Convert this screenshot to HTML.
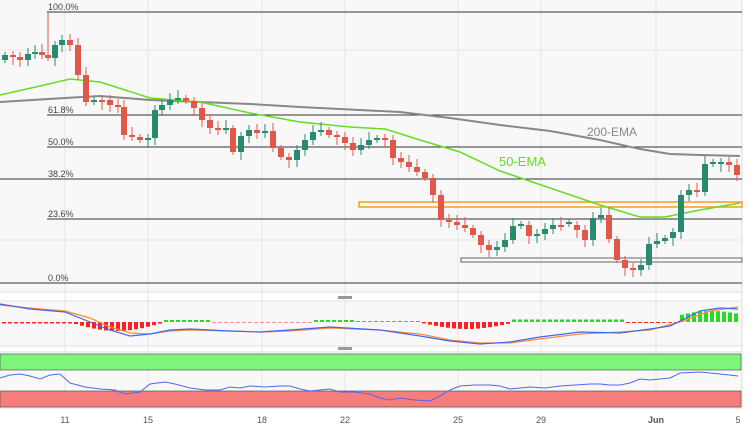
<!DOCTYPE html>
<html><head><meta charset="utf-8"><style>
html,body{margin:0;padding:0;background:#fff;width:750px;height:430px;overflow:hidden}
svg{display:block;font-family:"Liberation Sans",sans-serif}
</style></head><body>
<svg id="s" width="750" height="430" viewBox="0 0 750 430">
<rect width="750" height="430" fill="#fff"/>
<rect x="0" y="0" width="742" height="291" fill="#f8f8f8"/>
<rect x="0" y="302" width="742" height="43" fill="#f8f8f8"/>
<rect x="0" y="353" width="742" height="54" fill="#f8f8f8"/>
<g stroke="#e6e6e6" stroke-width="1">
<line x1="65" y1="0" x2="65" y2="407"/><line x1="148" y1="0" x2="148" y2="407"/><line x1="262" y1="0" x2="262" y2="407"/>
<line x1="345" y1="0" x2="345" y2="407"/><line x1="458" y1="0" x2="458" y2="407"/><line x1="541" y1="0" x2="541" y2="407"/>
<line x1="656" y1="0" x2="656" y2="407"/><line x1="0" y1="50" x2="742" y2="50"/><line x1="0" y1="240" x2="742" y2="240"/>
</g>
<line x1="0" y1="292" x2="742" y2="292" stroke="#ddd"/>
<line x1="0" y1="301" x2="742" y2="301" stroke="#ddd"/>
<line x1="0" y1="346" x2="742" y2="346" stroke="#ddd"/>
<line x1="0" y1="352" x2="742" y2="352" stroke="#ddd"/>
<line x1="0" y1="408" x2="742" y2="408" stroke="#ddd"/>
<line x1="742" y1="0" x2="742" y2="408" stroke="#ddd"/>
<rect x="338" y="296" width="14" height="3" fill="#999"/>
<rect x="338" y="347" width="14" height="3" fill="#999"/>
<g stroke="#333" stroke-width="1">
<line x1="47" y1="12" x2="742" y2="12"/><line x1="47" y1="115" x2="742" y2="115"/><line x1="47" y1="147" x2="742" y2="147"/>
<line x1="0" y1="179" x2="742" y2="179"/><line x1="47" y1="219" x2="742" y2="219"/><line x1="0" y1="283" x2="742" y2="283"/>
</g>
<g font-size="9" fill="#444">
<text x="48" y="10">100.0%</text><text x="48" y="113">61.8%</text><text x="48" y="145">50.0%</text>
<text x="48" y="177">38.2%</text><text x="48" y="217">23.6%</text><text x="48" y="281">0.0%</text>
</g>
<rect x="359" y="202" width="383" height="5" fill="none" stroke="#f0a020" stroke-width="1.5"/>
<rect x="461" y="258" width="281" height="4" fill="none" stroke="#666" stroke-width="1"/>
<polyline fill="none" stroke="#888" stroke-width="2" points="0,102 65,98 100,96 150,100 250,104 300,107 400,112 450,118 500,125 550,131 600,140 640,149 670,154 700,155 740,156"/>
<polyline fill="none" stroke="#66dd22" stroke-width="1.5" points="0,95 40,86 70,79 100,82 150,98 200,102 250,113 300,122 350,127 385,129 420,140 460,152 500,171 550,188 600,205 640,217 665,217 700,210 740,203"/>
<text x="587" y="136" font-size="12" fill="#888">200-EMA</text>
<text x="499" y="166" font-size="13" fill="#66dd22">50-EMA</text>
<g id="c"></g>
<g id="m"></g>
<rect x="0" y="354" width="741" height="16" fill="#7ef47a" stroke="#444" stroke-width="0.6"/>
<rect x="0" y="391" width="741" height="16" fill="#f77d7d" stroke="#444" stroke-width="0.6"/>
<polyline fill="none" stroke="#5566ee" stroke-width="1" points="0,378 10,375 20,374 30,376 40,379 50,375 60,374 70,383 85,387 100,389 115,390 125,394 140,392 150,384 165,382 175,384 190,388 205,390 220,390 230,387 240,388 250,386 265,387 280,386 290,386 300,389 310,391 320,390 330,389 340,392 355,392 370,394 380,398 390,400 400,398 415,400 430,401 440,396 450,390 460,386 475,385 490,385 500,386 510,389 520,388 530,387 545,388 560,386 575,385 590,384 600,384 610,385 620,385 630,383 640,379 650,380 660,379 670,378 680,373 700,372 720,374 738,376"/>
<g font-size="9" fill="#555" text-anchor="middle">
<text x="65" y="423">11</text><text x="148" y="423">15</text><text x="262" y="423">18</text><text x="345" y="423">22</text>
<text x="458" y="423">25</text><text x="541" y="423">29</text><text x="656" y="423" font-weight="bold">Jun</text><text x="738" y="423">5</text>
</g>
</svg>
<script>
var NS="http://www.w3.org/2000/svg";
var pts=[[5,55],[13,57],[20,60],[28,54],[35,52],[42,55],[48,58],[55,45],[62,40],[70,45],[78,75],[86,102],[94,100],[102,100],[110,105],[118,107],[124,135],[132,137],[140,140],[148,138],[155,110],[162,105],[170,100],[178,98],[186,101],[194,108],[202,120],[210,128],[218,130],[226,128],[233,152],[241,136],[249,130],[257,133],[265,131],[273,148],[281,157],[289,160],[297,150],[305,140],[313,132],[321,130],[329,135],[337,137],[345,143],[353,150],[361,145],[369,140],[377,138],[385,140],[393,158],[401,162],[409,167],[417,172],[425,178],[433,195],[441,220],[449,222],[457,225],[465,228],[473,235],[481,245],[489,250],[497,247],[505,240],[513,226],[521,225],[529,236],[537,234],[545,229],[553,225],[561,224],[569,225],[577,230],[585,240],[593,218],[601,215],[609,239],[617,260],[625,268],[633,270],[641,265],[649,244],[657,241],[665,238],[673,232],[681,195],[689,190],[697,192],[705,164],[713,164],[721,162],[729,165],[737,175]];
var g=document.getElementById("c"),prev=60;
pts.forEach(function(p,i){var o=prev,c=p[1];if(Math.abs(o-c)<2){c=o+(i%2?2:-2);}
var up=c<o,col=up?"#2a8a6e":"#e0584a",top=Math.min(o,c),bot=Math.max(o,c);
var hi=top-3-(i*7%6),lo=bot+3+(i*5%6);if(i==6)hi=12;
var l=document.createElementNS(NS,"line");l.setAttribute("x1",p[0]);l.setAttribute("x2",p[0]);l.setAttribute("y1",hi);l.setAttribute("y2",lo);l.setAttribute("stroke",col);g.appendChild(l);
var r=document.createElementNS(NS,"rect");r.setAttribute("x",p[0]-3);r.setAttribute("y",top);r.setAttribute("width",6);r.setAttribute("height",Math.max(1,bot-top));r.setAttribute("fill",col);g.appendChild(r);prev=p[1];});
var m=document.getElementById("m");
for(var x=2;x<740;x+=6){var h;
if(x<70)h=1.5;else if(x<160)h=Math.sin((x-70)/90*Math.PI)*8+1;else if(x<210)h=-2;else if(x<310)h=0.5;else if(x<355)h=-2;else if(x<420)h=-1;else if(x<510)h=Math.sin((x-420)/90*Math.PI)*6+1;else if(x<625)h=-2.5;else if(x<660)h=1;else if(x<680)h=0.8;else h=-Math.sin((x-660)/100*Math.PI)*9-2;
var r=document.createElementNS(NS,"rect");var y0=322;r.setAttribute("x",x);r.setAttribute("width",4);
if(h>0){r.setAttribute("y",y0);r.setAttribute("height",h);r.setAttribute("fill","#ff2020");}else{r.setAttribute("y",y0+h);r.setAttribute("height",-h);r.setAttribute("fill","#22dd22");}
m.appendChild(r);}
function pl(pts,col){var p=document.createElementNS(NS,"polyline");p.setAttribute("points",pts);p.setAttribute("fill","none");p.setAttribute("stroke",col);p.setAttribute("stroke-width","1.2");m.appendChild(p);}
pl("0,305 30,308 65,311 90,318 110,327 130,333 150,334 170,331 190,330 230,331 260,332 290,331 330,328 380,330 420,334 450,340 480,343 510,343 540,339 580,334 620,332 650,330 680,322 710,311 738,307","#ff8c3a");
pl("0,304 30,309 65,312 90,322 110,330 130,336 150,334 170,330 190,329 230,331 260,332 290,330 330,327 380,330 420,336 450,341 480,344 510,342 540,337 580,332 620,333 650,329 670,326 700,311 720,308 738,309","#4466ee");
</script>
</body></html>
